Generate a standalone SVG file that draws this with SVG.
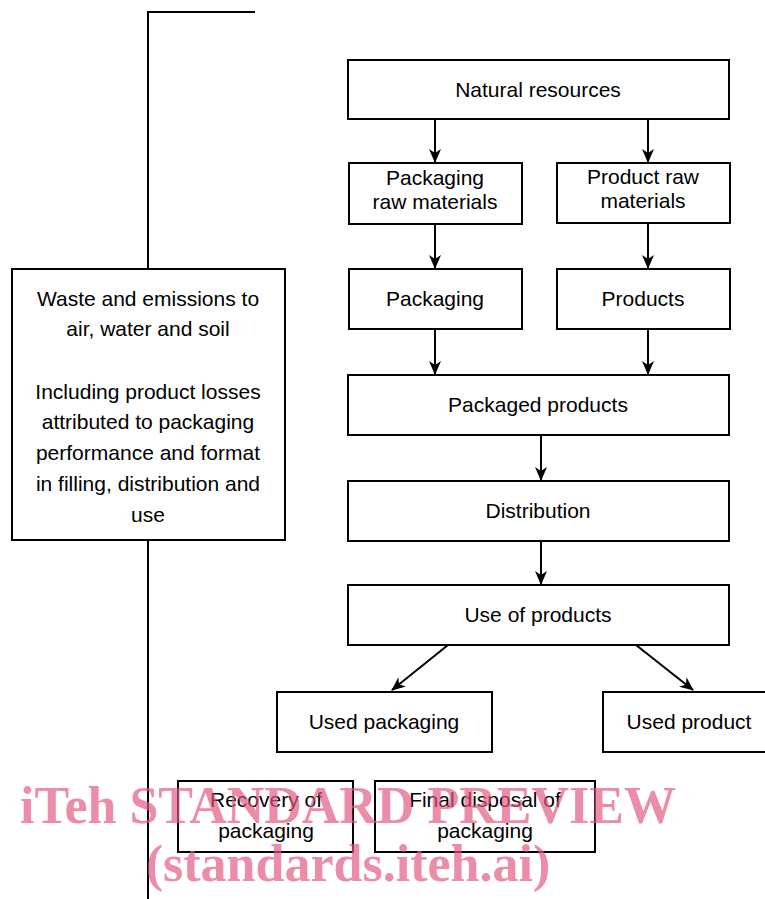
<svg xmlns="http://www.w3.org/2000/svg" width="765" height="899" viewBox="0 0 765 899">
<style>
.box{fill:#fff;stroke:#000;stroke-width:2}
.t{font-family:"Liberation Sans",Arial,sans-serif;font-size:21px;fill:#000;text-anchor:middle}
.c{stroke:#000;stroke-width:2;fill:none}
.wm{font-family:"Liberation Serif","Times New Roman",serif;font-weight:bold;font-size:52px;fill:#e2557f;fill-opacity:0.68;text-anchor:middle}
</style>
<defs>
<marker id="ah" viewBox="0 0 14 12" refX="13" refY="6" markerWidth="14" markerHeight="12" markerUnits="userSpaceOnUse" orient="auto">
<path d="M0,0 L14,6 L0,12 L4,6 z" fill="#000"/>
</marker>
</defs>
<rect width="765" height="899" fill="#fff"/>
<g id="connectors">
<polyline class="c" points="255,12 148,12 148,269"/>
<line class="c" x1="148" y1="540" x2="148" y2="899"/>
<line class="c" x1="435" y1="119" x2="435" y2="162" marker-end="url(#ah)"/>
<line class="c" x1="648" y1="119" x2="648" y2="162" marker-end="url(#ah)"/>
<line class="c" x1="435" y1="224" x2="435" y2="268" marker-end="url(#ah)"/>
<line class="c" x1="648" y1="223" x2="648" y2="268" marker-end="url(#ah)"/>
<line class="c" x1="435" y1="329" x2="435" y2="374" marker-end="url(#ah)"/>
<line class="c" x1="648" y1="329" x2="648" y2="374" marker-end="url(#ah)"/>
<line class="c" x1="541" y1="435" x2="541" y2="480" marker-end="url(#ah)"/>
<line class="c" x1="541" y1="541" x2="541" y2="584" marker-end="url(#ah)"/>
<line class="c" x1="448" y1="645" x2="392" y2="690" marker-end="url(#ah)"/>
<line class="c" x1="636" y1="645" x2="693" y2="690" marker-end="url(#ah)"/>
</g>
<g id="waste">
<rect class="box" x="12" y="269" width="273" height="271"/>
<text class="t" x="148" y="306">Waste and emissions to</text>
<text class="t" x="148" y="336">air, water and soil</text>
<text class="t" x="148" y="399">Including product losses</text>
<text class="t" x="148" y="429">attributed to packaging</text>
<text class="t" x="148" y="460">performance and format</text>
<text class="t" x="148" y="491">in filling, distribution and</text>
<text class="t" x="148" y="522">use</text>
</g>
<g id="natural"><rect class="box" x="348" y="60" width="381" height="59"/><text class="t" x="538" y="97">Natural resources</text></g>
<g id="pkgraw"><rect class="box" x="349" y="163" width="173" height="61"/><text class="t" x="435" y="185">Packaging</text><text class="t" x="435" y="209">raw materials</text></g>
<g id="prodraw"><rect class="box" x="557" y="163" width="173" height="60"/><text class="t" x="643" y="184">Product raw</text><text class="t" x="643" y="208">materials</text></g>
<g id="packaging"><rect class="box" x="349" y="269" width="173" height="60"/><text class="t" x="435" y="306">Packaging</text></g>
<g id="products"><rect class="box" x="557" y="269" width="173" height="60"/><text class="t" x="643" y="306">Products</text></g>
<g id="packaged"><rect class="box" x="348" y="375" width="381" height="60"/><text class="t" x="538" y="412">Packaged products</text></g>
<g id="distribution"><rect class="box" x="348" y="481" width="381" height="60"/><text class="t" x="538" y="518">Distribution</text></g>
<g id="use"><rect class="box" x="348" y="585" width="381" height="60"/><text class="t" x="538" y="622">Use of products</text></g>
<g id="usedpkg"><rect class="box" x="277" y="692" width="215" height="60"/><text class="t" x="384" y="729">Used packaging</text></g>
<g id="usedprod"><rect class="box" x="603" y="692" width="165" height="60"/><text class="t" x="689" y="729">Used product</text></g>
<g id="recovery"><rect class="box" x="178" y="781" width="175" height="71"/><text class="t" x="266" y="807">Recovery of</text><text class="t" x="266" y="838">packaging</text></g>
<g id="final"><rect class="box" x="375" y="781" width="220" height="71"/><text class="t" x="485" y="807">Final disposal of</text><text class="t" x="485" y="838">packaging</text></g>
<g id="watermark">
<text class="wm" x="348" y="823">iTeh STANDARD PREVIEW</text>
<text class="wm" x="348" y="881">(standards.iteh.ai)</text>
</g>
</svg>
